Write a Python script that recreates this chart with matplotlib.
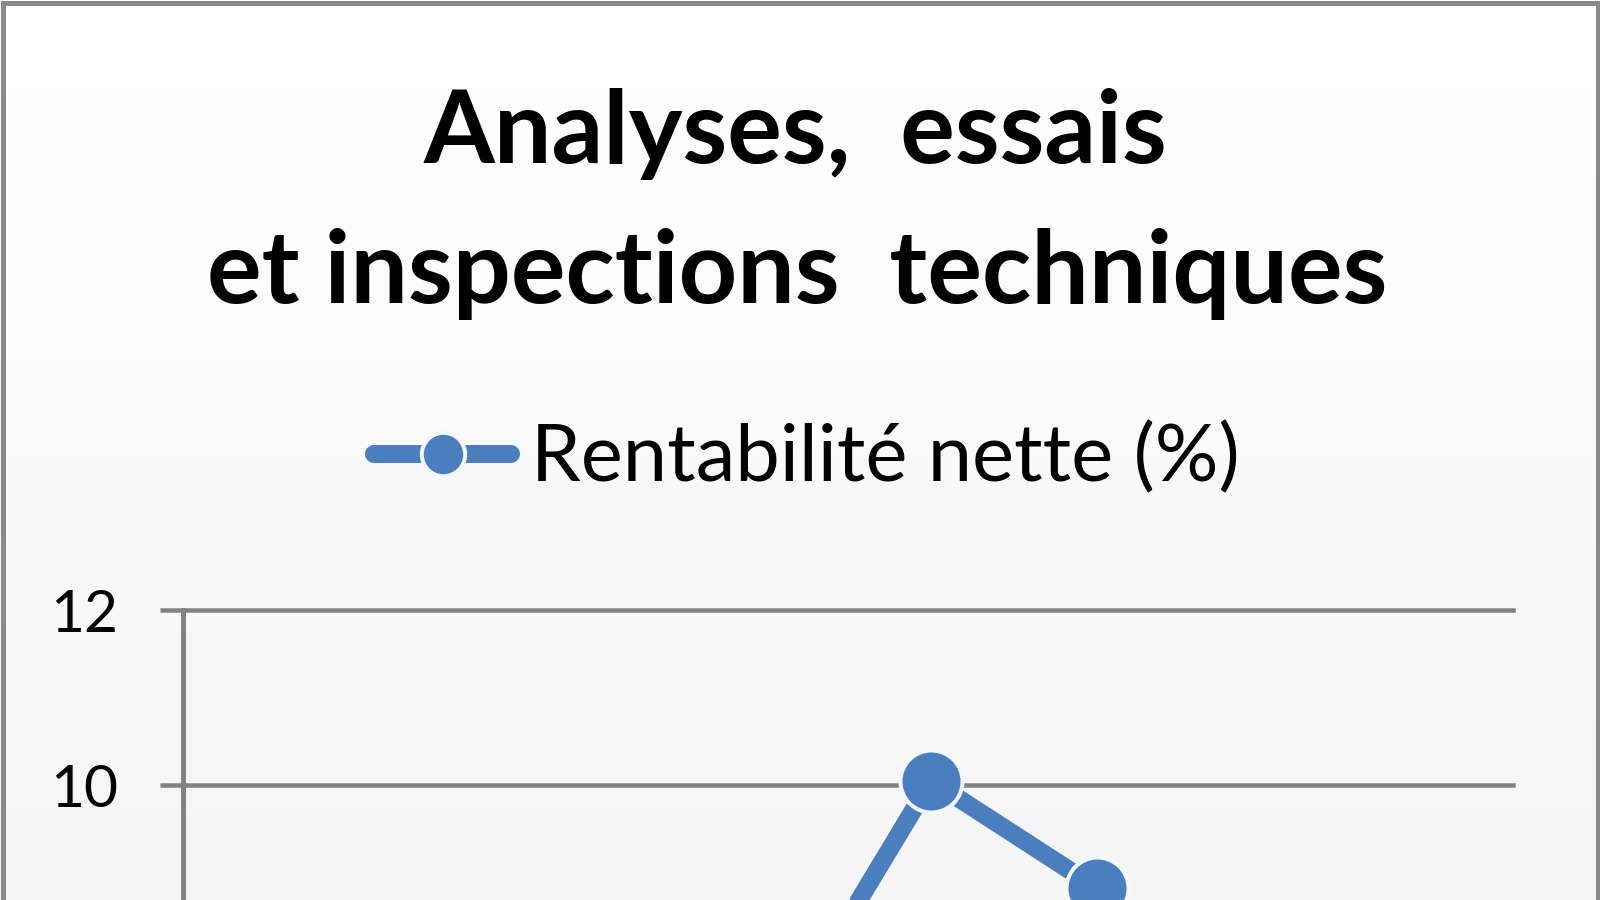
import matplotlib
matplotlib.use("Agg")
import matplotlib.pyplot as plt
import numpy as np
from matplotlib.colors import LinearSegmentedColormap
from matplotlib.patches import Rectangle

# ---------------- data ----------------
categories = ["2005", "2006", "2007", "2008", "2009", "2010", "2011", "2012"]
# indices 3..5; the others lie below the visible crop (estimates)
net_margin = [7.6, 7.2, 7.5, 6.9, 10.05, 8.82, 7.3, 6.7]
series_name = "Rentabilité nette (%)"
title_lines = ["Analyses,  essais", "et inspections  techniques"]
y_ticks = [0, 2, 4, 6, 8, 10, 12]

# ---------------- style ----------------
W, H, DPI = 1600, 900, 100
BLUE = "#4A7EBF"
GRID = "#838383"
FONT = "Lato"

fig = plt.figure(figsize=(W / DPI, H / DPI), dpi=DPI)
renderer = fig.canvas.get_renderer()


def px(v):
    return v * 72.0 / DPI


def fit_size(s, target_px, weight="normal"):
    t = fig.text(0, 0, s, fontsize=100, family=FONT, fontweight=weight)
    w = t.get_window_extent(renderer=renderer).width
    t.remove()
    return 100 * target_px / w


# background gradient
bg = fig.add_axes([0, 0, 1, 1], zorder=-10)
grad = np.linspace(0, 1, 256).reshape(-1, 1)
cmap = LinearSegmentedColormap.from_list("bg", ["#ffffff", "#f5f5f5"])
bg.imshow(grad, aspect="auto", cmap=cmap, extent=[0, 1, 0, 1], origin="upper")
bg.set_axis_off()

# chart border
fig.add_artist(Rectangle((2.5 / W, -0.5), (W - 5) / W, 1.5 - 2.5 / H,
                         transform=fig.transFigure, fill=False,
                         edgecolor="#8a8a8a", linewidth=px(5), clip_on=False))

# plot area (extends below the visible crop)
left_px, right_px = 183, 1513
top_px, y12_px, y10_px = 610, 610, 785
unit = (y10_px - y12_px) / 2.0
bottom_px = y12_px + 12 * unit
ax = fig.add_axes([left_px / W, 1 - bottom_px / H,
                   (right_px - left_px) / W, (bottom_px - top_px) / H])
ax.set_facecolor("none")

x = np.arange(len(categories))
line, = ax.plot(x, net_margin, color=BLUE, lw=px(18), marker="o",
                ms=px(62), mfc=BLUE, mec="#f4f7fb", mew=px(4),
                solid_capstyle="round", solid_joinstyle="round",
                label=series_name, zorder=5)

ax.set_xlim(-0.5, len(categories) - 0.5)
ax.set_ylim(0, 12)
ax.set_yticks(y_ticks)
ax.set_xticks(x)
ax.set_xticklabels(categories)
ax.yaxis.grid(True, color=GRID, lw=px(4.5))
ax.set_axisbelow(True)
for gl in ax.get_ygridlines():
    gl.set_clip_on(False)
for s in ["top", "right"]:
    ax.spines[s].set_visible(False)
for s in ["left", "bottom"]:
    ax.spines[s].set_color(GRID)
    ax.spines[s].set_linewidth(px(5))

tick_fs = fit_size("12", 68)
ax.tick_params(axis="y", length=px(23), width=px(4.5), color=GRID,
               direction="out", pad=px(42), labelsize=tick_fs, labelcolor="#000000")
ax.tick_params(axis="x", length=0, labelsize=tick_fs)
for lab in ax.get_yticklabels() + ax.get_xticklabels():
    lab.set_family(FONT)

# title
title_fs = fit_size(title_lines[1], 1180, "bold")
fig.text(795 / W, 1 - 163 / H, title_lines[0], ha="center", va="baseline",
         fontsize=title_fs, fontweight="bold", family=FONT, color="#000000")
fig.text(797 / W, 1 - 303 / H, title_lines[1], ha="center", va="baseline",
         fontsize=title_fs, fontweight="bold", family=FONT, color="#000000")

# legend
leg_fs = fit_size(series_name, 709)
leg_px = leg_fs * DPI / 72.0
leg = fig.legend(handles=[line], labels=[series_name], loc="center left",
                 bbox_to_anchor=(374 / W, 1 - 459 / H), frameon=False,
                 prop=dict(family=FONT, size=leg_fs),
                 handlelength=137 / leg_px, handletextpad=20 / leg_px,
                 borderpad=0, borderaxespad=0, markerscale=0.7, numpoints=1)

# labels that fall below the visible part of the chart are not drawn
fig.canvas.draw()
for lab in ax.get_yticklabels() + ax.get_xticklabels():
    bb = lab.get_window_extent(renderer=fig.canvas.get_renderer())
    if bb.y0 < 0:
        lab.set_visible(False)

fig.savefig("out.png", dpi=DPI)
